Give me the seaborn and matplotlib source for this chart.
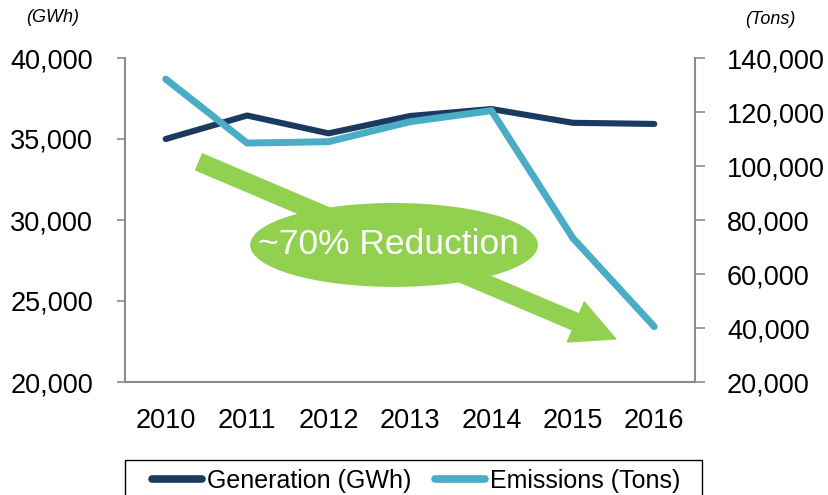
import numpy as np
import pandas as pd
import seaborn as sns
from matplotlib import pyplot as plt
from matplotlib.patches import Ellipse, Rectangle
from matplotlib.ticker import FuncFormatter, FixedLocator

YEARS = ["2010", "2011", "2012", "2013", "2014", "2015", "2016"]
GENERATION = [35000, 36450, 35350, 36420, 36850, 36000, 35930]
EMISSIONS = [132200, 108500, 109000, 116400, 120500, 73300, 40500]

NAVY = "#1b3a5f"
TEAL = "#4bacc6"
GREEN = "#92d050"
GREY = "#8c8c8c"

sns.set_style("white")
plt.rcParams["font.family"] = ["Liberation Sans", "DejaVu Sans"]
plt.rcParams["text.color"] = "black"

df = pd.DataFrame({"x": np.arange(len(YEARS)), "gen": GENERATION, "emi": EMISSIONS})

fig = plt.figure(figsize=(8.29, 4.95), dpi=100)
ax = fig.add_axes([125 / 829, 1 - 382 / 495, 570 / 829, 324 / 495])
ax2 = ax.twinx()

sns.lineplot(data=df, x="x", y="gen", ax=ax, color=NAVY, lw=4.4,
             solid_capstyle="round", label="Generation (GWh)", legend=False)
sns.lineplot(data=df, x="x", y="emi", ax=ax2, color=TEAL, lw=5,
             solid_capstyle="round", label="Emissions (Tons)", legend=False)

comma = FuncFormatter(lambda v, p: f"{v:,.0f}")
ax.set_ylim(20000, 40000)
ax.set_yticks(range(20000, 40001, 5000))
ax.yaxis.set_major_formatter(comma)
ax2.set_ylim(20000, 140000)
ax2.set_yticks(range(20000, 140001, 20000))
ax2.yaxis.set_major_formatter(comma)

ax.set_xlim(-0.5, len(YEARS) - 0.5)
ax.set_xticks(range(len(YEARS)))
ax.set_xticklabels(YEARS)
ax.xaxis.set_minor_locator(FixedLocator(np.arange(-0.5, len(YEARS), 1.0)))
ax.tick_params(axis="x", which="major", length=0, pad=19, labelsize=19.5, labelcolor="black")
ax.tick_params(axis="x", which="minor", length=6, width=1.2, color=GREY, direction="out")
ax.tick_params(axis="y", length=6, width=1.2, color=GREY, pad=17, labelsize=19.5,
               labelcolor="black", direction="out", left=True)
ax2.tick_params(axis="y", length=7, width=1.2, color=GREY, pad=16, labelsize=19.5,
                labelcolor="black", direction="out", right=True)

for a in (ax, ax2):
    a.set_xlabel("")
    a.set_ylabel("")
    for s in a.spines.values():
        s.set_visible(False)
ax.spines["left"].set_visible(True)
ax.spines["bottom"].set_visible(True)
ax2.spines["right"].set_visible(True)
for s in (ax.spines["left"], ax.spines["bottom"], ax2.spines["right"]):
    s.set_color(GREY)
    s.set_linewidth(1.5)

fig.text(53 / 829, 1 - 18 / 495, "(GWh)", style="italic", fontsize=13, ha="center", va="center")
fig.text(770 / 829, 1 - 20 / 495, "(Tons)", style="italic", fontsize=13, ha="center", va="center")

# green reduction arrow and bubble
ax.annotate("", xy=(0.861, 0.133), xytext=(0.130, 0.679), xycoords="axes fraction",
            arrowprops=dict(arrowstyle="simple,head_length=2.5,head_width=2.5,tail_width=1.0",
                            mutation_scale=12.5, color=GREEN, shrinkA=0, shrinkB=0), zorder=1)
ax.add_patch(Ellipse((0.472, 0.423), 0.505, 0.259, transform=ax.transAxes,
                     facecolor=GREEN, edgecolor="none", zorder=3))
ax.text(0.462, 0.423, "~70% Reduction", transform=ax.transAxes, color="white",
        fontsize=25.5, ha="center", va="center", zorder=4)

# legend box, partly below the image edge as in the source
fig.patches.append(Rectangle((125 / 829, -0.05), 577 / 829, 0.05 + (495 - 460) / 495,
                             transform=fig.transFigure, facecolor="none",
                             edgecolor="black", lw=1.0))
h1, l1 = ax.get_legend_handles_labels()
h2, l2 = ax2.get_legend_handles_labels()
leg = fig.legend(h1 + h2, l1 + l2, loc="center", bbox_to_anchor=(416 / 829, 1 - 481 / 495),
                 ncol=2, fontsize=18, frameon=False, borderpad=0,
                 handlelength=2.0, handletextpad=0.2, columnspacing=0.95)
for ln in leg.get_lines():
    ln.set_linewidth(5.5)
    ln.set_solid_capstyle("round")

fig.savefig("out.png", dpi=100)
